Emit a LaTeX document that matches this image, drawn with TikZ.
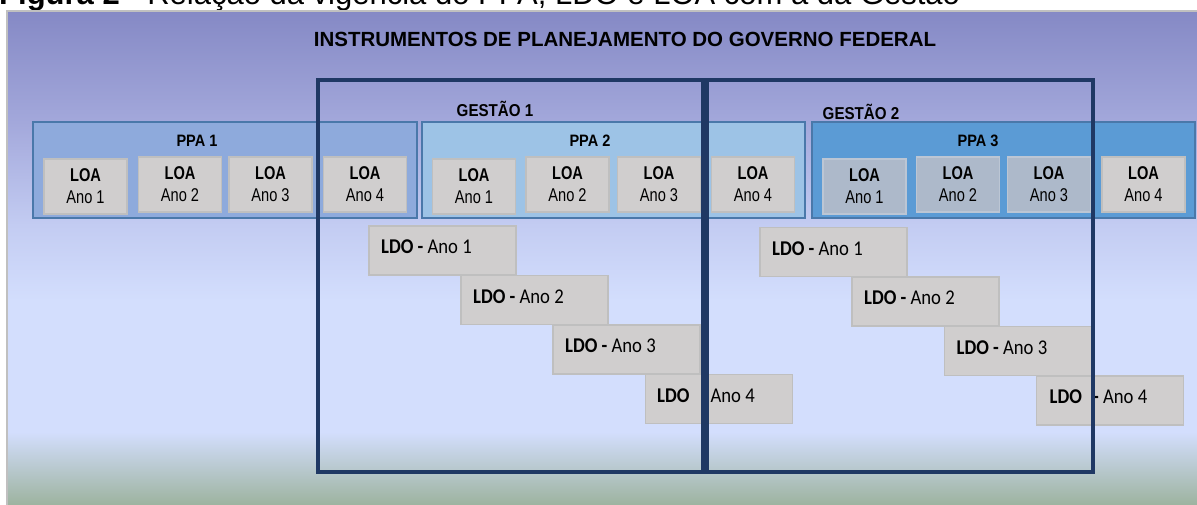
\documentclass[tikz,border=0pt]{standalone}
\usepackage{fontspec}
\setmainfont{Liberation Sans}
\newfontfamily\narf[FakeStretch=0.79]{Liberation Sans}
\newfontfamily\gstf[FakeStretch=0.88]{Liberation Sans}
\newfontfamily\calf[FakeStretch=0.89]{Carlito}
\definecolor{bgTop}{HTML}{8589C5}
\definecolor{bgMidA}{HTML}{A3A8DB}
\definecolor{bgMidB}{HTML}{C3CCF2}
\definecolor{bgLight}{HTML}{D3DEFD}
\definecolor{bgBottom}{HTML}{9DB39F}
\definecolor{ppaOne}{HTML}{8EAADC}
\definecolor{ppaTwo}{HTML}{9DC3E6}
\definecolor{ppaThree}{HTML}{5B9BD5}
\definecolor{ppaBorder}{HTML}{4A78AA}
\definecolor{loaFill}{HTML}{D0CECE}
\definecolor{loaBorder}{HTML}{BFBFBF}
\definecolor{loaBlue}{HTML}{ADB9CA}
\definecolor{loaBlueBorder}{HTML}{BCC6D4}
\definecolor{navy}{HTML}{1F3864}
\definecolor{panelEdge}{HTML}{C0C0C0}
\tikzset{
  ppabox/.style={draw=ppaBorder, line width=2.5pt, inner sep=0pt, minimum height=96pt},
  ppalabel/.style={font=\gstf\bfseries\fontsize{16.5}{20}\selectfont, inner sep=0pt},
  loabox/.style={draw=loaBorder, fill=loaFill, line width=1.2pt, minimum width=83pt, minimum height=55pt, inner sep=0pt, align=center, font=\narf\fontsize{18.5}{22}\selectfont},
  loabluebox/.style={loabox, draw=loaBlueBorder, fill=loaBlue},
  ldobox/.style={draw=loaBorder, fill=loaFill, line width=1.2pt, minimum width=147pt, minimum height=49pt, inner sep=0pt},
  ldotext/.style={anchor=west, inner sep=0pt, font=\calf\fontsize{21}{24}\selectfont},
  gestao/.style={draw=navy, line width=4pt, inner sep=0pt},
  gestlabel/.style={font=\gstf\bfseries\fontsize{17.2}{20}\selectfont, inner sep=0pt},
}
\begin{document}
\begin{tikzpicture}[x=1pt,y=-1pt]
\useasboundingbox (0,0) rectangle (1197,505);
\fill[white] (0,0) rectangle (1197,505);
% clipped caption
\begin{scope}
\clip (0,0) rectangle (1197,505);
\node[anchor=base west, inner sep=0pt, font=\fontsize{31}{36}\selectfont] (caption) at (-1,5) {\textbf{Figura 2} - Relação da vigência do PPA, LDO e LOA com a da Gestão};
\end{scope}
% background panel
\fill[top color=bgTop, bottom color=bgMidA] (7,11) rectangle (1197,122.5);
\fill[top color=bgMidA, bottom color=bgMidB] (7,122) rectangle (1197,225.5);
\fill[top color=bgMidB, bottom color=bgLight] (7,225) rectangle (1197,300.5);
\fill[bgLight] (7,300) rectangle (1197,432.5);
\fill[top color=bgLight, bottom color=bgBottom] (7,432) rectangle (1197,505);
\draw[panelEdge, line width=2.5pt] (7.2,505) -- (7.2,11.2) -- (1197,11.2);
% title
\node[font=\bfseries\fontsize{20.5}{24}\selectfont, inner sep=0pt] (title) at (625,39) {INSTRUMENTOS DE PLANEJAMENTO DO GOVERNO FEDERAL};
% PPA boxes
\node[ppabox, fill=ppaOne, minimum width=384pt] (ppa1) at (225,170) {};
\node[ppabox, fill=ppaTwo, minimum width=383pt] (ppa2) at (613.5,170) {};
\node[ppabox, fill=ppaThree, minimum width=383pt] (ppa3) at (1003.5,170) {};
\node[ppalabel] (ppa1t) at (197,141) {PPA 1};
\node[ppalabel] (ppa2t) at (590,141) {PPA 2};
\node[ppalabel] (ppa3t) at (978,141) {PPA 3};
% LOA boxes
\node[loabox] (l11) at (85.5,186.5) {\bfseries LOA\\Ano 1};
\node[loabox] (l12) at (180,184.5) {\bfseries LOA\\Ano 2};
\node[loabox] (l13) at (270.5,184.5) {\bfseries LOA\\Ano 3};
\node[loabox] (l14) at (365,184.5) {\bfseries LOA\\Ano 4};
\node[loabox] (l21) at (474,186.5) {\bfseries LOA\\Ano 1};
\node[loabox] (l22) at (567.5,184.5) {\bfseries LOA\\Ano 2};
\node[loabox] (l23) at (659,184.5) {\bfseries LOA\\Ano 3};
\node[loabox] (l24) at (753,184.5) {\bfseries LOA\\Ano 4};
\node[loabluebox] (l31) at (864.5,186.5) {\bfseries LOA\\Ano 1};
\node[loabluebox] (l32) at (958,184.5) {\bfseries LOA\\Ano 2};
\node[loabluebox] (l33) at (1049,184.5) {\bfseries LOA\\Ano 3};
\node[loabox] (l34) at (1143.5,184.5) {\bfseries LOA\\Ano 4};
% LDO boxes, gestao 1
\node[ldobox] (d11) at (442.5,250.5) {};
\node[ldobox] (d12) at (534.5,300) {};
\node[ldobox] (d13) at (626.5,349.5) {};
\node[ldobox] (d14) at (719,399) {};
\node[ldotext] (d11t) at ([xshift=12.5pt,yshift=3.5pt]d11.west) {\textbf{LDO -} Ano 1};
\node[ldotext] (d12t) at ([xshift=12.5pt,yshift=3.5pt]d12.west) {\textbf{LDO -} Ano 2};
\node[ldotext] (d13t) at ([xshift=12.5pt,yshift=3.5pt]d13.west) {\textbf{LDO -} Ano 3};
\node[ldotext] (d14t) at ([xshift=12pt,yshift=3.5pt]d14.west) {\textbf{LDO\hspace{7pt} -} Ano 4};
% LDO boxes, gestao 2
\node[ldobox] (d21) at (833.5,252) {};
\node[ldobox] (d22) at (925.5,301.5) {};
\node[ldobox] (d23) at (1018,351) {};
\node[ldobox] (d24) at (1110,400.5) {};
\node[ldotext] (d21t) at ([xshift=12.5pt,yshift=3.5pt]d21.west) {\textbf{LDO -} Ano 1};
\node[ldotext] (d22t) at ([xshift=12.5pt,yshift=3.5pt]d22.west) {\textbf{LDO -} Ano 2};
\node[ldotext] (d23t) at ([xshift=12.5pt,yshift=3.5pt]d23.west) {\textbf{LDO -} Ano 3};
\node[ldotext] (d24t) at ([xshift=13.5pt,yshift=3.5pt]d24.west) {\textbf{LDO\hspace{7pt} -} Ano 4};
% gestao frames
\node[gestao, minimum width=385pt, minimum height=391.5pt] (g1) at (510.5,275.75) {};
\node[gestao, minimum width=386pt, minimum height=391.5pt] (g2) at (900,275.75) {};
\node[gestlabel] (g1t) at (495,109) {GESTÃO 1};
\node[gestlabel] (g2t) at (861,111.5) {GESTÃO 2};
\end{tikzpicture}
\end{document}
